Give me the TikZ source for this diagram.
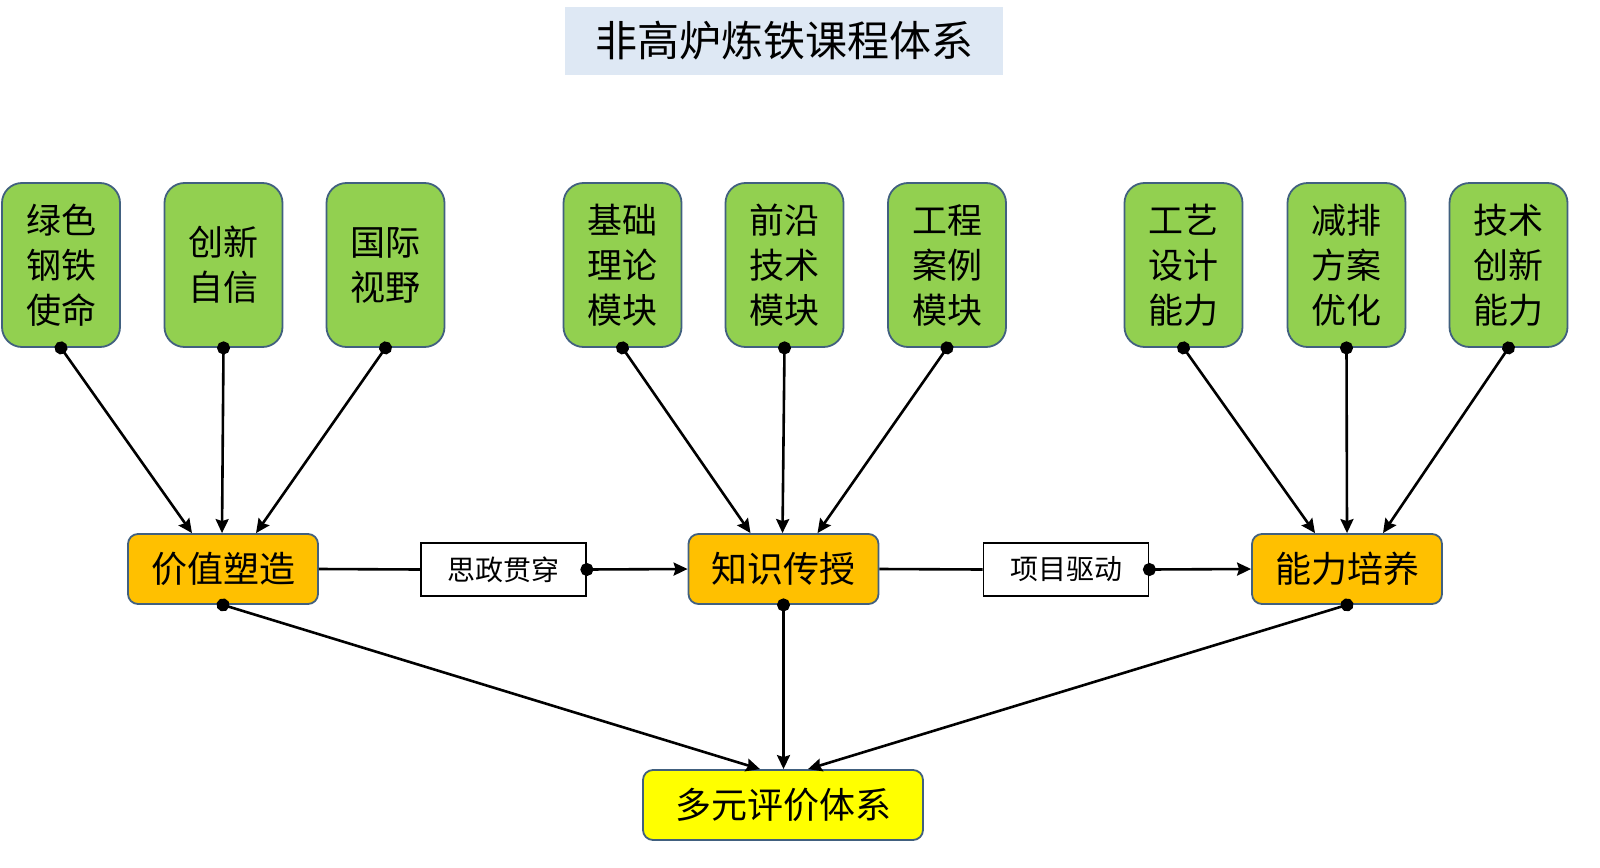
\documentclass[tikz,border=0pt]{standalone}
\usepackage{fontspec}
\setmainfont{Noto Sans CJK SC}
\usetikzlibrary{arrows.meta,calc}
\definecolor{gfill}{HTML}{92D050}
\definecolor{ofill}{HTML}{FFC000}
\definecolor{yfill}{HTML}{FFFF00}
\definecolor{bord}{HTML}{41607F}
\definecolor{tfill}{HTML}{DEE8F4}
\tikzset{
  gbox/.style={draw=bord, line width=1.8pt, fill=gfill, rounded corners=20pt, minimum width=118pt, minimum height=164pt, inner sep=0pt, align=center, font=\fontsize{35}{45}\selectfont},
  obox/.style={draw=bord, line width=1.8pt, fill=ofill, rounded corners=10pt, minimum width=190pt, minimum height=70pt, inner sep=0pt, font=\fontsize{36}{40}\selectfont},
  ybox/.style={obox, fill=yfill, minimum width=280pt},
  wbox/.style={draw=black, line width=1.8pt, fill=white, minimum width=165pt, minimum height=53pt, inner sep=0pt, font=\fontsize{28}{30}\selectfont},
  conn/.style={line width=2.6pt, shorten <=-6.5pt, {Circle[length=13pt]}-{Stealth[length=14pt,width=13pt,inset=2pt]}},
  plain/.style={line width=2.6pt},
}
\begin{document}
\begin{tikzpicture}[x=1pt,y=-1pt]
\useasboundingbox (0,0) rectangle (1600,867);
\node[fill=tfill, minimum width=438pt, minimum height=68pt, inner sep=0pt, font=\fontsize{42}{45}\selectfont] (title) at (784,41) {非高炉炼铁课程体系};
\node[gbox] (g1) at (61,265) {绿色\\钢铁\\使命};
\node[gbox] (g2) at (223.5,265) {创新\\自信};
\node[gbox] (g3) at (385.5,265) {国际\\视野};
\node[gbox] (g4) at (622.5,265) {基础\\理论\\模块};
\node[gbox] (g5) at (784.5,265) {前沿\\技术\\模块};
\node[gbox] (g6) at (947,265) {工程\\案例\\模块};
\node[gbox] (g7) at (1183.5,265) {工艺\\设计\\能力};
\node[gbox] (g8) at (1346.5,265) {减排\\方案\\优化};
\node[gbox] (g9) at (1508.5,265) {技术\\创新\\能力};
\node[obox] (v) at (223,569) {价值塑造};
\node[obox] (k) at (783.5,569) {知识传授};
\node[obox] (a) at (1347,569) {能力培养};
\node[ybox] (e) at (783,805) {多元评价体系};
\node[wbox] (s) at (503.5,569.5) {思政贯穿};
\node[wbox] (p) at (1066,569.5) {项目驱动};
% top connectors
\draw[conn] (g1.south) -- ([xshift=-31pt]v.north);
\draw[conn] (g2.south) -- ([xshift=-1pt]v.north);
\draw[conn] (g3.south) -- ([xshift=33pt]v.north);
\draw[conn] (g4.south) -- ([xshift=-33pt]k.north);
\draw[conn] (g5.south) -- ([xshift=-1pt]k.north);
\draw[conn] (g6.south) -- ([xshift=34pt]k.north);
\draw[conn] (g7.south) -- ([xshift=-32pt]a.north);
\draw[conn] (g8.south) -- ([xshift=0pt]a.north);
\draw[conn] (g9.south) -- ([xshift=36pt]a.north);
% horizontal
\draw[plain] (v.east) -- (s.west);
\draw[conn] (s.east) -- (k.west);
\draw[plain] (k.east) -- (p.west);
\draw[conn] (p.east) -- (a.west);
% bottom
\draw[conn] (v.south) -- ([xshift=-23pt]e.north);
\draw[conn] (k.south) -- ([xshift=0.5pt]e.north);
\draw[conn] (a.south) -- ([xshift=25pt]e.north);
\end{tikzpicture}
\end{document}
